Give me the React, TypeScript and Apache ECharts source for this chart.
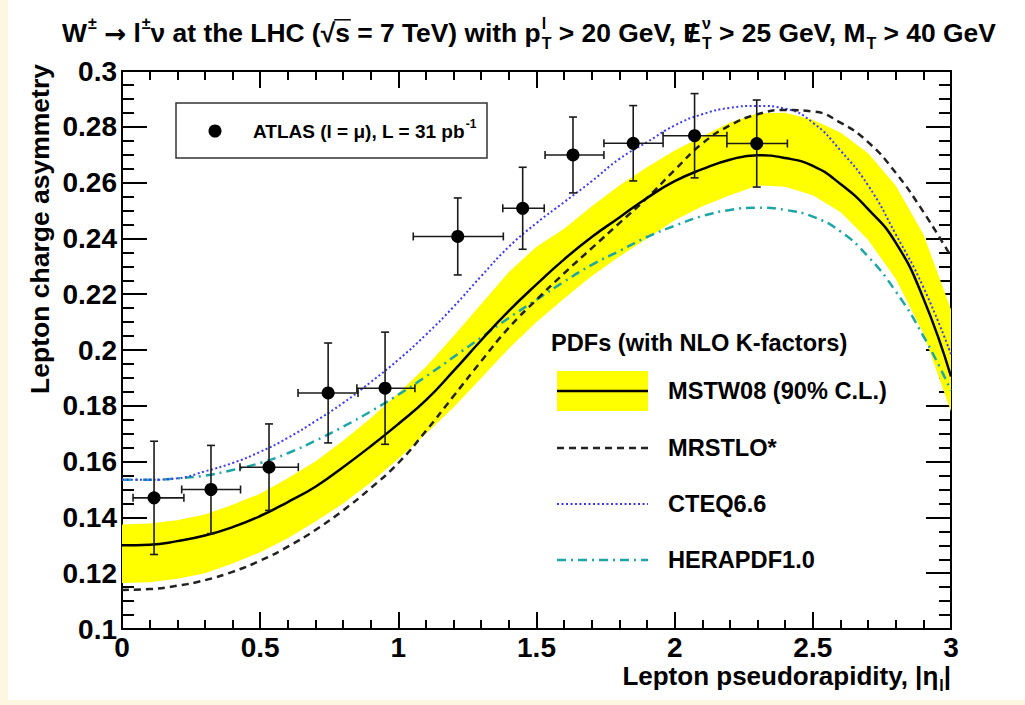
import React, { useEffect, useRef } from "react";
import * as echarts from "echarts";

// ---------------- data ----------------
const etaGrid = [0, 0.1, 0.2, 0.3, 0.4, 0.5, 0.6, 0.7, 0.8, 0.9, 1.0, 1.1, 1.2, 1.3, 1.4, 1.5, 1.6, 1.7, 1.8, 1.9, 2.0, 2.1, 2.2, 2.3, 2.4, 2.5, 2.6, 2.7, 2.8, 2.9, 3.0];

const mstwCentral = [0.130, 0.1302, 0.1315, 0.1335, 0.1365, 0.1405, 0.1455, 0.151, 0.158, 0.1655, 0.1735, 0.182, 0.1925, 0.2035, 0.214, 0.2235, 0.2325, 0.2405, 0.2475, 0.2545, 0.2605, 0.2648, 0.2682, 0.2698, 0.2688, 0.266, 0.2595, 0.2505, 0.2385, 0.2185, 0.1905];
const mstwUpper = [0.1375, 0.1378, 0.139, 0.141, 0.1445, 0.1485, 0.154, 0.160, 0.1675, 0.1755, 0.1845, 0.194, 0.205, 0.2165, 0.228, 0.237, 0.2435, 0.2515, 0.259, 0.2655, 0.2715, 0.2765, 0.2815, 0.2848, 0.285, 0.2825, 0.278, 0.2705, 0.259, 0.2415, 0.2145];
const mstwLower = [0.1165, 0.1168, 0.118, 0.120, 0.1235, 0.1275, 0.1325, 0.1385, 0.145, 0.1525, 0.161, 0.170, 0.1795, 0.190, 0.2005, 0.210, 0.2185, 0.2265, 0.2335, 0.240, 0.2465, 0.2515, 0.2555, 0.259, 0.2585, 0.2555, 0.2495, 0.2395, 0.2255, 0.206, 0.178];
const mrstlo = [0.114, 0.1143, 0.1155, 0.1175, 0.1205, 0.1245, 0.1295, 0.1355, 0.1425, 0.1505, 0.1595, 0.171, 0.1835, 0.196, 0.208, 0.218, 0.2275, 0.2365, 0.2455, 0.2545, 0.2645, 0.274, 0.2805, 0.2845, 0.286, 0.2855, 0.2815, 0.2745, 0.2635, 0.2495, 0.2335];
const cteq66 = [0.1535, 0.1535, 0.154, 0.1565, 0.1595, 0.1635, 0.1685, 0.1745, 0.181, 0.1885, 0.1965, 0.2055, 0.2155, 0.2265, 0.237, 0.2455, 0.253, 0.2605, 0.2685, 0.2745, 0.2805, 0.2845, 0.2868, 0.2875, 0.2865, 0.2815, 0.2715, 0.259, 0.2415, 0.2225, 0.1985];
const herapdf = [0.1535, 0.1535, 0.154, 0.155, 0.157, 0.1595, 0.163, 0.1675, 0.1725, 0.178, 0.184, 0.1905, 0.1975, 0.2045, 0.2115, 0.218, 0.2245, 0.2305, 0.2355, 0.2405, 0.2445, 0.248, 0.2502, 0.251, 0.2502, 0.2478, 0.2425, 0.2335, 0.221, 0.205, 0.1855];

const dataEta = [0.116, 0.322, 0.532, 0.746, 0.952, 1.215, 1.45, 1.632, 1.85, 2.072, 2.297];
const dataAsym = [0.147, 0.150, 0.158, 0.1846, 0.1863, 0.2407, 0.2508, 0.2699, 0.2741, 0.2768, 0.274];
const dataErr = [0.0203, 0.0158, 0.0155, 0.0179, 0.0201, 0.0138, 0.0147, 0.0136, 0.0135, 0.0151, 0.0156];
const dataEtaLo = [0.04, 0.216, 0.427, 0.637, 0.85, 1.054, 1.378, 1.531, 1.744, 1.958, 2.189];
const dataEtaHi = [0.224, 0.429, 0.638, 0.854, 1.06, 1.38, 1.528, 1.744, 1.958, 2.189, 2.408];

const legendNames = ["MSTW08 (90% C.L.)", "MRSTLO*", "CTEQ6.6", "HERAPDF1.0"];

// ---------------- helpers ----------------
const FAMILY = '"Liberation Sans", Arial, Helvetica, sans-serif';
const SYMFAMILY = '"DejaVu Sans", sans-serif';
let measureCtx: CanvasRenderingContext2D | null = null;
function measure(text: string, size: number, fam: string = FAMILY) {
  if (!measureCtx) measureCtx = document.createElement("canvas").getContext("2d");
  measureCtx!.font = `bold ${size}px ${fam}`;
  return measureCtx!.measureText(text).width;
}

type Seg = { t?: string; sup?: string; sub?: string; over?: boolean; slash?: boolean; fam?: string };

function txt(text: string, x: number, y: number, size: number, extra: any = {}) {
  return {
    type: "text",
    x,
    y,
    style: {
      text,
      fill: "#000",
      fontSize: size,
      fontWeight: "bold",
      fontFamily: FAMILY,
      textAlign: "left",
      align: "left",
      textVerticalAlign: "middle",
      verticalAlign: "middle",
      ...extra,
    },
  };
}

function richLine(segs: Seg[], size: number) {
  const children: any[] = [];
  const small = Math.round(size * 0.62);
  let x = 0;
  for (const s of segs) {
    if (s.t !== undefined) {
      const fam = s.fam || FAMILY;
      const w = measure(s.t, size, fam);
      children.push(txt(s.t, x, 0, size, { fontFamily: fam }));
      if (s.over) {
        children.push({ type: "line", shape: { x1: x - 1, y1: -size * 0.5, x2: x + w + 1, y2: -size * 0.5 }, style: { stroke: "#000", lineWidth: 1.5 } });
      }
      if (s.slash) {
        children.push(txt("/", x + w / 2, 0, size, { textAlign: "center", align: "center" }));
      }
      x += w;
    } else {
      let w = 0;
      if (s.sup) {
        children.push(txt(s.sup, x + 1, -size * 0.36, small));
        w = Math.max(w, measure(s.sup, small) + 1);
      }
      if (s.sub) {
        children.push(txt(s.sub, x + 1, size * 0.38, small));
        w = Math.max(w, measure(s.sub, small) + 1);
      }
      x += w;
    }
  }
  return { children, width: x };
}

const titleSegs: Seg[] = [
  { t: "W" }, { sup: "±" }, { t: " " }, { t: "→", fam: SYMFAMILY }, { t: " l" }, { sup: "±" }, { t: "ν at the LHC (" }, { t: "√" }, { t: "s", over: true },
  { t: " = 7 TeV) with p" }, { sup: "l", sub: "T" }, { t: " > 20 GeV, " }, { t: "E", slash: true }, { sup: "ν", sub: "T" },
  { t: " > 25 GeV, M" }, { sub: "T" }, { t: " > 40 GeV" },
];
const xTitleSegs: Seg[] = [{ t: "Lepton pseudorapidity, |η" }, { sub: "l" }, { t: "|" }];
const atlasSegs: Seg[] = [{ t: "ATLAS (l = μ), L = 31 pb" }, { sup: "-1" }];

const pairs = (arr: number[]) => etaGrid.map((x, i) => [x, arr[i]]);

export default function App() {
  const ref = useRef<HTMLDivElement>(null);
  useEffect(() => {
    if (!ref.current) return;
    const chart = echarts.init(ref.current, undefined, { renderer: "svg" });

    const axisCommon = {
      type: "value",
      axisLine: { show: true, onZero: false, lineStyle: { color: "#000", width: 2 } },
      splitLine: { show: false },
      minorSplitLine: { show: false },
    };

    const title = richLine(titleSegs, 26.4);
    const xTitle = richLine(xTitleSegs, 26);
    const atlas = richLine(atlasSegs, 19);

    const legX = 549; // chart coords
    const legTextX = 660;
    const legRows = [391, 448, 504, 560];
    const LF = 23.6;

    const option: any = {
      animation: false,
      backgroundColor: "transparent",
      grid: { left: 114, right: 74, top: 71, bottom: 71 },
      xAxis: [
        {
          ...axisCommon,
          position: "bottom",
          min: 0,
          max: 3,
          interval: 0.5,
          axisTick: { show: true, inside: true, length: 17, lineStyle: { color: "#000", width: 2 } },
          minorTick: { show: true, splitNumber: 5, length: 9, lineStyle: { color: "#000", width: 2 } },
          axisLabel: { show: true, fontSize: 28, fontWeight: "bold", fontFamily: FAMILY, color: "#000", margin: 4 },
        },
        {
          ...axisCommon,
          position: "top",
          min: 0,
          max: 3,
          interval: 0.5,
          axisTick: { show: true, inside: true, length: 17, lineStyle: { color: "#000", width: 2 } },
          minorTick: { show: true, splitNumber: 5, length: 9, lineStyle: { color: "#000", width: 2 } },
          axisLabel: { show: false },
        },
      ],
      yAxis: [
        {
          ...axisCommon,
          position: "left",
          min: 0.1,
          max: 0.3,
          interval: 0.02,
          axisTick: { show: true, inside: true, length: 25, lineStyle: { color: "#000", width: 2 } },
          minorTick: { show: true, splitNumber: 4, length: 12, lineStyle: { color: "#000", width: 2 } },
          axisLabel: {
            show: true,
            fontSize: 28,
            fontWeight: "bold",
            fontFamily: FAMILY,
            color: "#000",
            margin: 5,
            formatter: (v: number) => String(+v.toFixed(2)),
          },
        },
        {
          ...axisCommon,
          position: "right",
          min: 0.1,
          max: 0.3,
          interval: 0.02,
          axisTick: { show: true, inside: true, length: 25, lineStyle: { color: "#000", width: 2 } },
          minorTick: { show: true, splitNumber: 4, length: 12, lineStyle: { color: "#000", width: 2 } },
          axisLabel: { show: false },
        },
      ],
      series: [
        {
          name: "MSTW08 band",
          type: "custom",
          z: 1,
          silent: true,
          data: etaGrid.map((x, i) => [x, mstwLower[i], mstwUpper[i]]),
          renderItem: (params: any, api: any) => {
            if (params.dataIndex !== 0) return null;
            const upper = etaGrid.map((x, i) => api.coord([x, mstwUpper[i]]));
            const lower = etaGrid.map((x, i) => api.coord([x, mstwLower[i]])).reverse();
            return {
              type: "polygon",
              shape: { points: upper.concat(lower) },
              style: { fill: "#ffff00", stroke: "none" },
            };
          },
        },
        {
          name: legendNames[3],
          type: "line",
          data: pairs(herapdf),
          smooth: true,
          symbol: "none",
          lineStyle: { color: "#1fa5a5", width: 2.5, type: [9, 5, 2, 5] },
          z: 3,
        },
        {
          name: legendNames[2],
          type: "line",
          data: pairs(cteq66),
          smooth: true,
          symbol: "none",
          lineStyle: { color: "#3a3af5", width: 2, type: [2, 2.5] },
          z: 3,
        },
        {
          name: legendNames[1],
          type: "line",
          data: pairs(mrstlo),
          smooth: true,
          symbol: "none",
          lineStyle: { color: "#222", width: 2.5, type: [7, 5] },
          z: 3,
        },
        {
          name: legendNames[0],
          type: "line",
          data: pairs(mstwCentral),
          smooth: true,
          symbol: "none",
          lineStyle: { color: "#000", width: 2.5 },
          z: 4,
        },
        {
          name: "ATLAS",
          type: "custom",
          z: 10,
          clip: false,
          data: dataEta.map((x, i) => [x, dataAsym[i], dataErr[i], dataEtaLo[i], dataEtaHi[i]]),
          renderItem: (_p: any, api: any) => {
            const x = api.value(0);
            const y = api.value(1);
            const e = api.value(2);
            const c = api.coord([x, y]);
            const top = api.coord([x, y + e]);
            const bot = api.coord([x, y - e]);
            const l = api.coord([api.value(3), y]);
            const r = api.coord([api.value(4), y]);
            const cap = 4;
            const st = { stroke: "#1a1a1a", lineWidth: 1.6 };
            return {
              type: "group",
              children: [
                { type: "line", shape: { x1: c[0], y1: top[1], x2: c[0], y2: bot[1] }, style: st },
                { type: "line", shape: { x1: c[0] - cap, y1: top[1], x2: c[0] + cap, y2: top[1] }, style: st },
                { type: "line", shape: { x1: c[0] - cap, y1: bot[1], x2: c[0] + cap, y2: bot[1] }, style: st },
                { type: "line", shape: { x1: l[0], y1: c[1], x2: r[0], y2: c[1] }, style: st },
                { type: "line", shape: { x1: l[0], y1: c[1] - cap, x2: l[0], y2: c[1] + cap }, style: st },
                { type: "line", shape: { x1: r[0], y1: c[1] - cap, x2: r[0], y2: c[1] + cap }, style: st },
                { type: "circle", shape: { cx: c[0], cy: c[1], r: 6.5 }, style: { fill: "#000" } },
              ],
            };
          },
        },
      ],
      graphic: [
        // title
        { type: "group", x: 54, y: 33, children: title.children },
        // y axis title
        {
          ...txt("Lepton charge asymmetry", 32, 229, 26.5, { textAlign: "center", align: "center" }),
          rotation: Math.PI / 2,
        },
        // x axis title
        { type: "group", x: 943 - xTitle.width, y: 676, children: xTitle.children },
        // ATLAS legend box
        {
          type: "group",
          z: 100,
          children: [
            { type: "rect", shape: { x: 168, y: 103, width: 311, height: 55 }, style: { fill: "#fff", stroke: "#333", lineWidth: 1.5 } },
            { type: "circle", shape: { cx: 207, cy: 131, r: 6.5 }, style: { fill: "#000" } },
            { type: "group", x: 245, y: 131, children: atlas.children },
          ],
        },
        // PDF legend
        {
          type: "group",
          z: 100,
          children: [
            txt("PDFs (with NLO K-factors)", 543, 343, LF),
            { type: "rect", shape: { x: legX, y: legRows[0] - 20, width: 91, height: 40 }, style: { fill: "#ffff00" } },
            { type: "line", shape: { x1: legX, y1: legRows[0], x2: legX + 91, y2: legRows[0] }, style: { stroke: "#000", lineWidth: 2.5 } },
            txt(legendNames[0], legTextX, legRows[0], LF),
            { type: "line", shape: { x1: legX, y1: legRows[1], x2: legX + 91, y2: legRows[1] }, style: { stroke: "#222", lineWidth: 2.5, lineDash: [7, 5] } },
            txt(legendNames[1], legTextX, legRows[1], LF),
            { type: "line", shape: { x1: legX, y1: legRows[2], x2: legX + 91, y2: legRows[2] }, style: { stroke: "#3a3af5", lineWidth: 2, lineDash: [2, 2.5] } },
            txt(legendNames[2], legTextX, legRows[2], LF),
            { type: "line", shape: { x1: legX, y1: legRows[3], x2: legX + 91, y2: legRows[3] }, style: { stroke: "#1fa5a5", lineWidth: 2.5, lineDash: [9, 5, 2, 5] } },
            txt(legendNames[3], legTextX, legRows[3], LF),
          ],
        },
      ],
    };

    chart.setOption(option);
    return () => chart.dispose();
  }, []);

  return (
    <div style={{ position: "fixed", left: 0, top: 0, width: 1025, height: 705, background: "#fdf7e1" }}>
      <div style={{ position: "absolute", left: 8, top: 0, width: 1017, height: 700, background: "#fff" }}>
        <div ref={ref} style={{ width: 1017, height: 700 }} />
      </div>
    </div>
  );
}
